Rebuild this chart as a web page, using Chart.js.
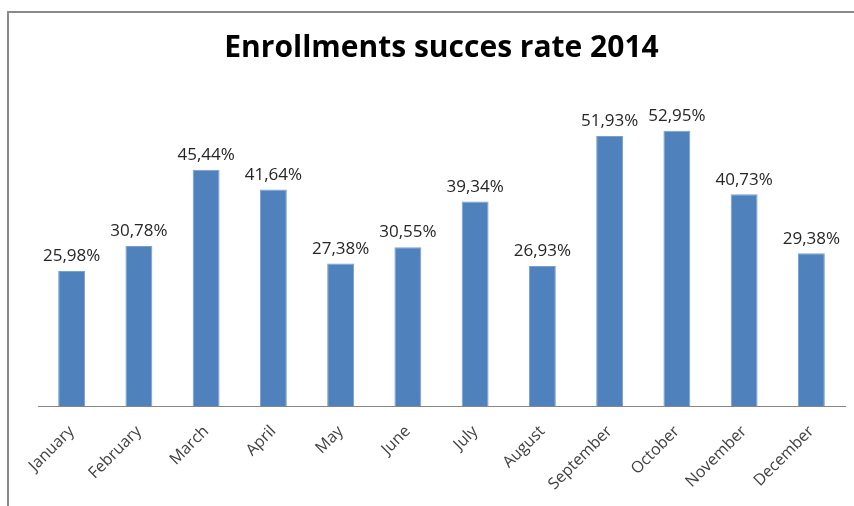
<!DOCTYPE html>
<html>
<head>
<meta charset="utf-8">
<script src="https://cdn.jsdelivr.net/npm/chart.js@4/dist/chart.umd.min.js"></script>
<style>
  html, body { margin: 0; padding: 0; background: #fff; }
  #wrap { position: relative; width: 854px; height: 506px; }
</style>
</head>
<body>
<div id="wrap"><canvas id="chart" width="854" height="506"></canvas></div>
<script>
// Data
const months = ['January', 'February', 'March', 'April', 'May', 'June',
                'July', 'August', 'September', 'October', 'November', 'December'];
const successRate = [25.98, 30.78, 45.44, 41.64, 27.38, 30.55,
                     39.34, 26.93, 51.93, 52.95, 40.73, 29.38];
const yMin = 0;
const yMax = 60;

// Excel-style outer frame (cut off at right/bottom)
const framePlugin = {
    id: 'frame',
    beforeDraw(chart) {
        const ctx = chart.ctx;
        ctx.save();
        ctx.fillStyle = '#fff';
        ctx.fillRect(0, 0, chart.width, chart.height);
        ctx.strokeStyle = '#8a8a8a';
        ctx.lineWidth = 2;
        ctx.strokeRect(8, 12, chart.width + 20, chart.height + 20);
        ctx.restore();
    }
};

// Value labels above each bar, with decimal comma
const valueLabels = {
    id: 'valueLabels',
    afterDatasetsDraw(chart) {
        const ctx = chart.ctx;
        const meta = chart.getDatasetMeta(0);
        ctx.save();
        ctx.font = '17px "Open Sans"';
        ctx.fillStyle = '#262626';
        ctx.textAlign = 'center';
        ctx.textBaseline = 'bottom';
        meta.data.forEach((bar, i) => {
            const txt = successRate[i].toFixed(2).replace('.', ',') + '%';
            ctx.fillText(txt, bar.x, bar.y - 6);
        });
        ctx.restore();
    }
};

new Chart(document.getElementById('chart'), {
    type: 'bar',
    data: {
        labels: months,
        datasets: [{
            data: successRate,
            backgroundColor: '#4f81bd',
            borderColor: '#7a9fcf',
            borderWidth: 1,
            barPercentage: 0.4,
            categoryPercentage: 1.0
        }]
    },
    options: {
        responsive: false,
        animation: false,
        layout: { padding: { left: 38, right: 9, top: 12, bottom: 0 } },
        plugins: {
            legend: { display: false },
            tooltip: { enabled: false },
            title: {
                display: true,
                text: 'Enrollments succes rate 2014',
                color: '#000',
                font: { family: 'Open Sans', size: 30, weight: 'bold' },
                padding: { top: 18, bottom: 28 }
            }
        },
        scales: {
            x: {
                grid: { display: false, drawTicks: false },
                border: { display: true, color: '#868686', width: 1 },
                ticks: {
                    color: '#404040',
                    font: { family: 'Open Sans', size: 16 },
                    minRotation: 45,
                    maxRotation: 45,
                    padding: 16,
                    autoSkip: false
                },
                afterFit(scale) { scale.height = 100; }
            },
            y: {
                display: false,
                min: yMin,
                max: yMax
            }
        }
    },
    plugins: [framePlugin, valueLabels]
});
</script>
</body>
</html>
